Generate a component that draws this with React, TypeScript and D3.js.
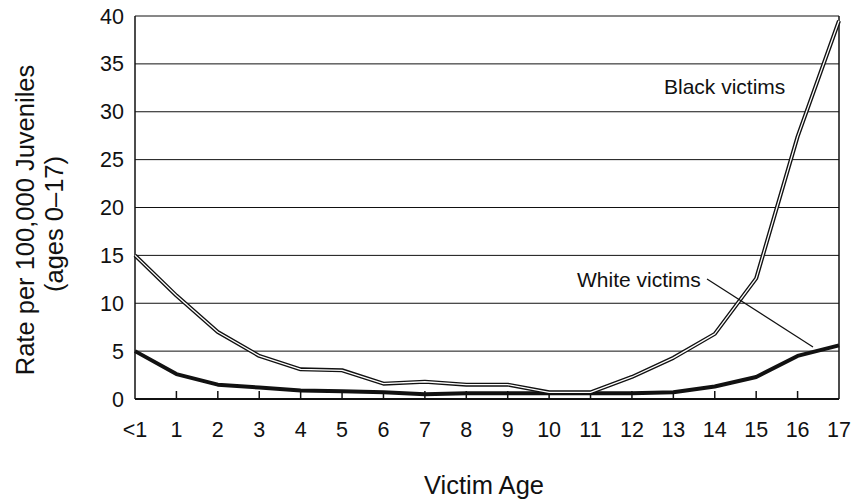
import React from "react";
import * as d3 from "d3";

const ages = ["<1","1","2","3","4","5","6","7","8","9","10","11","12","13","14","15","16","17"];
const blackVictims = [15, 10.8, 7, 4.5, 3.1, 3.0, 1.6, 1.8, 1.5, 1.5, 0.7, 0.7, 2.3, 4.3, 6.8, 12.6, 27.4, 39.5];
const whiteVictims = [5.0, 2.6, 1.5, 1.2, 0.9, 0.8, 0.7, 0.5, 0.6, 0.6, 0.6, 0.6, 0.6, 0.7, 1.3, 2.3, 4.5, 5.6];
const yTicks = [0, 5, 10, 15, 20, 25, 30, 35, 40];

export default function App() {
  const W = 853, H = 500;
  const left = 135, right = 839, top = 16, bottom = 399;
  const x = d3.scalePoint<string>().domain(ages).range([left, right]);
  const y = d3.scaleLinear().domain([0, 40]).range([bottom, top]);
  const line = d3.line<number>().x((_, i) => x(ages[i])!).y(d => y(d)).curve(d3.curveLinear);
  const font = "'Liberation Sans', Arial, Helvetica, sans-serif";
  return (
    <svg width={W} height={H} style={{ position: "absolute", left: 0, top: 0, background: "#fff" }} fontFamily={font}>
      <rect x={0} y={0} width={W} height={H} fill="#fff" />
      {yTicks.map(t => (
        <g key={t}>
          <line x1={left} x2={right} y1={y(t)} y2={y(t)} stroke="#111" strokeWidth={1} />
          <text x={124} y={y(t)} dy="0.35em" textAnchor="end" fontSize={21.5} fill="#111">{t}</text>
        </g>
      ))}
      <line x1={left} x2={left} y1={top} y2={bottom} stroke="#111" strokeWidth={1.5} />
      <line x1={right} x2={right} y1={top} y2={bottom} stroke="#111" strokeWidth={1.5} />
      <line x1={left} x2={right} y1={bottom} y2={bottom} stroke="#111" strokeWidth={1.8} />
      {ages.map((a, i) => (
        <g key={a}>
          {i > 0 && i < ages.length - 1 && (
            <line x1={x(a)} x2={x(a)} y1={bottom} y2={bottom - 8} stroke="#111" strokeWidth={1.5} />
          )}
          <text x={x(a)} y={429} dy="0.35em" textAnchor="middle" fontSize={21.5} fill="#111">{a}</text>
        </g>
      ))}
      <path d={line(whiteVictims)!} fill="none" stroke="#111" strokeWidth={4} strokeLinejoin="round" />
      <path d={line(blackVictims)!} fill="none" stroke="#111" strokeWidth={4} strokeLinejoin="round" />
      <path d={line(blackVictims)!} fill="none" stroke="#fff" strokeWidth={1.3} strokeLinejoin="round" />
      <text x={664} y={87} dy="0.35em" fontSize={21} fill="#111">Black victims</text>
      <text x={577} y={280} dy="0.35em" fontSize={21} fill="#111">White victims</text>
      <line x1={707} y1={279} x2={813} y2={347} stroke="#111" strokeWidth={1.2} />
      <text x={484} y={485} dy="0.35em" textAnchor="middle" fontSize={25.5} fill="#111">Victim Age</text>
      <text transform={`translate(25,220) rotate(-90)`} textAnchor="middle" dy="0.35em" fontSize={25.5} fill="#111">Rate per 100,000 Juveniles</text>
      <text transform={`translate(54,224) rotate(-90)`} textAnchor="middle" dy="0.35em" fontSize={25.5} fill="#111">(ages 0–17)</text>
    </svg>
  );
}
